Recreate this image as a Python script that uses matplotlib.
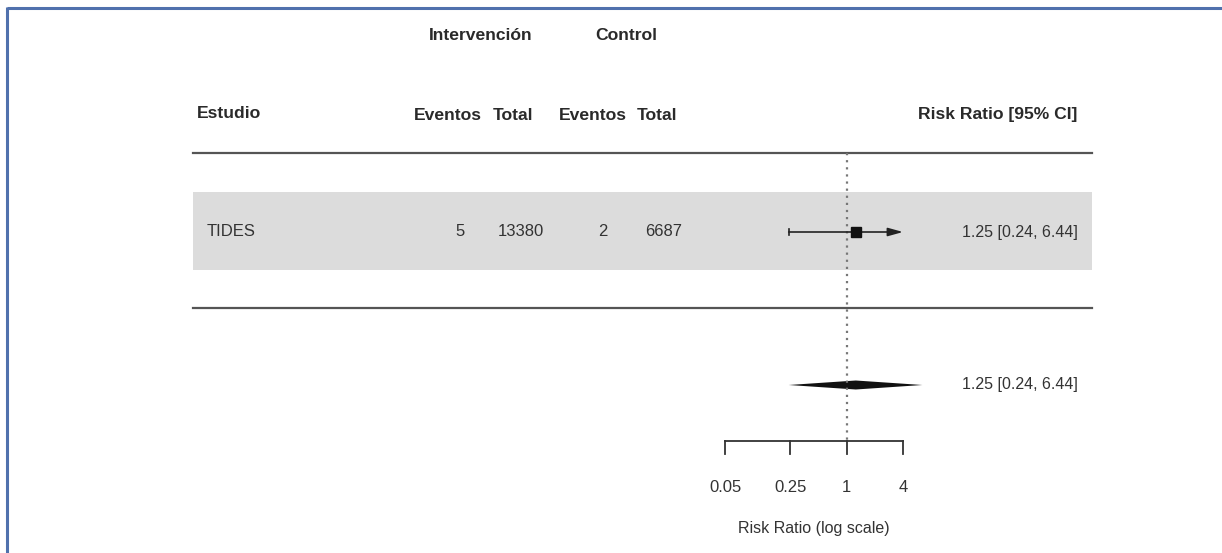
import numpy as np
import matplotlib
matplotlib.use('Agg')
import matplotlib.pyplot as plt
from matplotlib.patches import Polygon, Rectangle

plt.rcParams['font.family'] = ['Liberation Sans', 'DejaVu Sans']

# data
study = ['TIDES']
ev_int = [5]
tot_int = [13380]
ev_ctl = [2]
tot_ctl = [6687]
rr = [1.25]
ci_lo = [0.24]
ci_hi = [6.44]
pooled_rr = 1.25
pooled_lo = 0.24
pooled_hi = 6.44
xticks = [0.05, 0.25, 1, 4]
xtick_labels = ['0.05', '0.25', '1', '4']

W, H = 1222, 553
fig = plt.figure(figsize=(W / 100, H / 100), dpi=100)

# table layer in pixel coordinates
ax = fig.add_axes([0, 0, 1, 1])
ax.set_xlim(0, W)
ax.set_ylim(H, 0)
ax.axis('off')

# forest layer: log x-scale, pixel y
a, b = 846.7, 40.62
fax = fig.add_axes([0, 0, 1, 1], facecolor='none')
fax.set_xscale('log')
fax.set_xlim(np.exp((0 - a) / b), np.exp((W - a) / b))
fax.set_ylim(H, 0)
fax.axis('off')

# frame lines (top and left)
blue = '#5071ad'
ax.plot([7, W], [7.5, 7.5], color=blue, lw=2.2, solid_capstyle='butt')
ax.plot([7, 7], [7, H], color=blue, lw=2.2, solid_capstyle='butt')

txt = '#333333'
hdr = dict(fontsize=12.6, fontweight='bold', color='#2a2a2a', va='center')
ax.text(481, 36, 'Intervención', ha='center', **hdr)
ax.text(626, 36, 'Control', ha='center', **hdr)
ax.text(197, 114, 'Estudio', ha='left', **hdr)
ax.text(448, 115, 'Eventos', ha='center', **hdr)
ax.text(513, 115, 'Total', ha='center', **hdr)
ax.text(593, 115, 'Eventos', ha='center', **hdr)
ax.text(657, 115, 'Total', ha='center', **hdr)
ax.text(1077, 114, 'Risk Ratio [95% CI]', ha='right', **hdr)

# rules and shaded row
ax.plot([193, 1092], [153, 153], color='#555555', lw=1.6)
ax.plot([193, 1092], [308, 308], color='#555555', lw=1.6)
ax.add_patch(Rectangle((193, 192), 899, 78, color='#dcdcdc', lw=0, zorder=0))

row_y = [232]
reg = dict(fontsize=12, color=txt, va='center')
val = dict(fontsize=11.5, color=txt, va='center')
for i, y in enumerate(row_y):
    ax.text(207, y, study[i], ha='left', **reg)
    ax.text(460, y, str(ev_int[i]), ha='center', **reg)
    ax.text(521, y, str(tot_int[i]), ha='center', **reg)
    ax.text(603, y, str(ev_ctl[i]), ha='center', **reg)
    ax.text(664, y, str(tot_ctl[i]), ha='center', **reg)
    ax.text(1078, y, f'{rr[i]:.2f} [{ci_lo[i]:.2f}, {ci_hi[i]:.2f}]', ha='right', **val)

    # CI line, arrow if beyond axis limit
    xmax = xticks[-1]
    hi = min(ci_hi[i], xmax)
    if ci_hi[i] > xmax:
        fax.annotate('', xy=(hi, y), xytext=(ci_lo[i], y),
                     arrowprops=dict(arrowstyle='-|>,head_length=0.9,head_width=0.25',
                                     color='#222222', lw=1.2, shrinkA=0, shrinkB=0))
    else:
        fax.plot([ci_lo[i], hi], [y, y], color='#222222', lw=1.2)
    fax.plot([ci_lo[i], ci_lo[i]], [y - 3, y + 3], color='#222222', lw=1.2)
    fax.plot([rr[i]], [y], marker='s', ms=6.5, color='#111111', zorder=5)

# pooled diamond
dy = 385
h = 4.5
fax.add_patch(Polygon([(pooled_lo, dy), (pooled_rr, dy - h), (pooled_hi, dy), (pooled_rr, dy + h)],
                      closed=True, color='#111111', lw=0))
ax.text(1078, dy, f'{pooled_rr:.2f} [{pooled_lo:.2f}, {pooled_hi:.2f}]', ha='right', **val)

# reference line
fax.plot([1, 1], [153, 440], color='#777777', lw=1.6, linestyle=(0, (1, 2.2)), zorder=1)

# x axis drawn manually
ay = 441
fax.plot([xticks[0], xticks[-1]], [ay, ay], color='#333333', lw=1.3)
for t, lab in zip(xticks, xtick_labels):
    fax.plot([t, t], [ay, ay + 13], color='#333333', lw=1.3)
    fax.text(t, 487, lab, ha='center', va='center', fontsize=12, color=txt)
mid = np.sqrt(xticks[0] * xticks[-1])
fax.text(mid, 528, 'Risk Ratio (log scale)', ha='center', va='center', fontsize=11.5, color=txt)

fig.savefig('out.png', dpi=100)
